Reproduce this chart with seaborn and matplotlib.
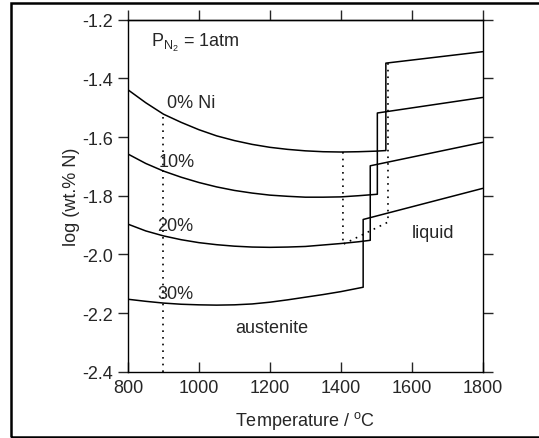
import numpy as np
import pandas as pd
import matplotlib
matplotlib.use("Agg")
import matplotlib.pyplot as plt
import seaborn as sns
from matplotlib.patches import Rectangle

# Solid (austenite) curves
t_0 = [800, 850, 900, 950, 1000, 1050, 1100, 1150, 1200, 1250, 1300, 1350, 1400, 1450, 1500, 1527]
v_0 = [-1.439, -1.483, -1.522, -1.550, -1.575, -1.596, -1.612, -1.625, -1.635, -1.642, -1.647, -1.650, -1.651, -1.650, -1.648, -1.646]

t_10 = [800, 850, 900, 950, 1000, 1050, 1100, 1150, 1200, 1250, 1300, 1350, 1400, 1450, 1503]
v_10 = [-1.658, -1.690, -1.716, -1.737, -1.755, -1.770, -1.782, -1.791, -1.798, -1.802, -1.805, -1.805, -1.804, -1.800, -1.795]

t_20 = [800, 850, 900, 950, 1000, 1050, 1100, 1150, 1200, 1250, 1300, 1350, 1400, 1450, 1483]
v_20 = [-1.897, -1.920, -1.937, -1.950, -1.960, -1.967, -1.972, -1.975, -1.976, -1.975, -1.973, -1.968, -1.963, -1.957, -1.952]

t_30 = [800, 850, 900, 950, 1000, 1050, 1100, 1150, 1200, 1250, 1300, 1350, 1400, 1463]
v_30 = [-2.153, -2.160, -2.166, -2.170, -2.172, -2.173, -2.172, -2.169, -2.163, -2.155, -2.146, -2.137, -2.127, -2.112]

# Liquid lines: (start T, start value, end value at 1800)
liq_0 = (1527, -1.348, -1.309)
liq_10 = (1503, -1.518, -1.465)
liq_20 = (1483, -1.698, -1.618)
liq_30 = (1463, -1.881, -1.775)

# dotted guide lines
dot_t = [900, 900]
dot_v = [-2.4, -1.522]
dot2_t = [1406, 1406, 1533, 1533]
dot2_v = [-1.651, -1.966, -1.890, -1.348]

sns.set_style("ticks")
plt.rcParams["font.family"] = ["Liberation Sans", "DejaVu Sans"]
plt.rcParams["axes.unicode_minus"] = False

fig = plt.figure(figsize=(5.39, 4.39), dpi=100)
ax = fig.add_axes([0.2375, 0.151, 0.658, 0.8018])

for t, v, liq in [(t_0, v_0, liq_0), (t_10, v_10, liq_10), (t_20, v_20, liq_20), (t_30, v_30, liq_30)]:
    xs = t + [liq[0], 1800]
    ys = v + [liq[1], liq[2]]
    sns.lineplot(x=xs, y=ys, ax=ax, color="black", lw=1.1, sort=False, estimator=None)

sns.lineplot(x=dot_t, y=dot_v, ax=ax, color="black", lw=1.2, sort=False, estimator=None)
sns.lineplot(x=dot2_t, y=dot2_v, ax=ax, color="black", lw=1.2, sort=False, estimator=None)
for ln in ax.lines[-2:]:
    ln.set_linestyle((0, (1, 3)))

ax.set_xlim(800, 1800)
ax.set_ylim(-2.4, -1.2)
ax.set_xticks([800, 1000, 1200, 1400, 1600, 1800])
ax.set_yticks([-2.4, -2.2, -2.0, -1.8, -1.6, -1.4, -1.2])
ax.set_yticklabels(["-2.4", "-2.2", "-2.0", "-1.8", "-1.6", "-1.4", "-1.2"])
ax.tick_params(axis="x", direction="in", length=7, width=1, labelsize=13, pad=5)
ax.tick_params(axis="y", direction="out", length=7, width=1, labelsize=13, right=True, pad=4)
top = ax.secondary_xaxis("top")
top.set_xticks([800, 1000, 1200, 1400, 1600, 1800])
top.tick_params(direction="out", length=7, width=1, labeltop=False)
for s in ax.spines.values():
    s.set_linewidth(1.0)
    s.set_color("black")
top.spines["top"].set_linewidth(1.0)

ax.set_xlabel("Temperature / $\\mathregular{^oC}$", fontsize=13, labelpad=9.5)
ax.set_ylabel("log (wt.% N)", fontsize=13, labelpad=1.5)

ax.text(864, -1.276, "P$\\mathregular{_{N_2}}$ = 1atm", fontsize=13, va="center")
ax.text(909, -1.482, "0% Ni", fontsize=13, va="center")
ax.text(885, -1.685, "10%", fontsize=13, va="center")
ax.text(882, -1.902, "20%", fontsize=13, va="center")
ax.text(882, -2.132, "30%", fontsize=13, va="center")
ax.text(1102, -2.248, "austenite", fontsize=13, va="center")
ax.text(1601, -1.924, "liquid", fontsize=13, va="center")

fig.patches.append(Rectangle((0.0204, 0.0034), 1.0, 0.9876, transform=fig.transFigure,
                             fill=False, edgecolor="black", lw=1.8))

fig.savefig("out.png", dpi=100)
